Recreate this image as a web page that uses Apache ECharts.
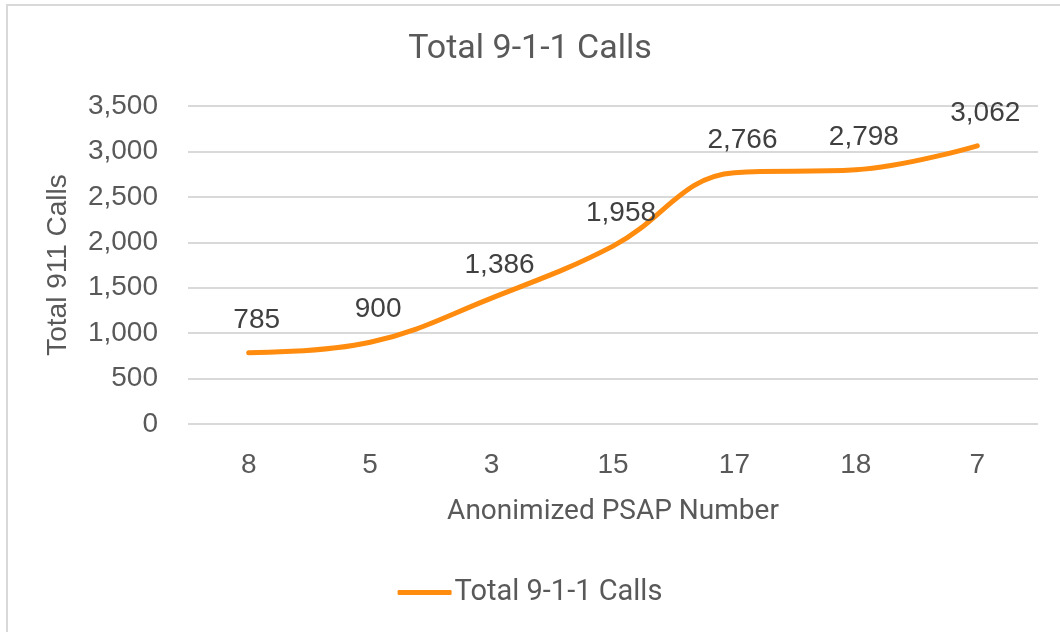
<!DOCTYPE html>
<html>
<head>
<meta charset="utf-8">
<script src="https://cdn.jsdelivr.net/npm/echarts@6/dist/echarts.min.js"></script>
<style>
  html, body { margin: 0; padding: 0; background: #fff; }
  #main { position: absolute; left: 0; top: 0; width: 1060px; height: 632px; }
  #frame { position: absolute; left: 6px; top: 4px; width: 1060px; height: 640px;
           border-left: 2px solid #d9d9d9; border-top: 2px solid #d9d9d9; }
</style>
</head>
<body>
<div id="frame"></div>
<div id="main"></div>
<script>
// 数据
var psapNumbers = ['8', '5', '3', '15', '17', '18', '7'];
var totalCalls = [785, 900, 1386, 1958, 2766, 2798, 3062];
var seriesName = 'Total 9-1-1 Calls';

var myChart = echarts.init(document.getElementById('main'));
var fmt = function (v) { return Number(v).toLocaleString('en-US'); };
var font = 'Liberation Sans';
var orange = '#ff8c0f';

var option = {
    animation: false,
    title: {
        text: 'Total 9-1-1 Calls',
        left: 'center',
        top: 27,
        textStyle: { fontFamily: 'Roboto', fontWeight: 'normal', fontSize: 34, color: '#595959' }
    },
    grid: { left: 188, right: 22, top: 106, bottom: 208 },
    legend: {
        top: 573,
        left: 'center',
        itemWidth: 54,
        itemHeight: 5,
        itemGap: 4,
        icon: 'roundRect',
        textStyle: { fontFamily: 'Roboto', fontSize: 29, color: '#595959', padding: [0, 0, 0, -2] },
        data: [{ name: seriesName, itemStyle: { color: orange } }]
    },
    xAxis: {
        type: 'category',
        data: psapNumbers,
        boundaryGap: true,
        name: 'Anonimized PSAP Number',
        nameLocation: 'middle',
        nameGap: 74,
        nameTextStyle: { fontFamily: 'Roboto', fontSize: 28, color: '#595959' },
        axisLine: { show: false },
        axisTick: { show: false },
        axisLabel: { margin: 27, fontFamily: font, fontSize: 28, color: '#595959' }
    },
    yAxis: {
        type: 'value',
        min: 0,
        max: 3500,
        interval: 500,
        name: 'Total 911 Calls',
        nameLocation: 'middle',
        nameGap: 116,
        nameTextStyle: { fontFamily: font, fontSize: 28, color: '#595959' },
        axisLine: { show: false },
        axisTick: { show: false },
        axisLabel: { margin: 30, fontFamily: font, fontSize: 28, color: '#595959', formatter: fmt },
        splitLine: { lineStyle: { color: '#d9d9d9', width: 2 } }
    },
    series: [{
        name: seriesName,
        type: 'line',
        data: totalCalls,
        smooth: 0.4,
        showSymbol: true,
        symbol: 'circle',
        symbolSize: 3,
        lineStyle: { color: orange, width: 5, cap: 'round' },
        itemStyle: { color: orange },
        label: {
            show: true,
            position: 'top',
            distance: 17,
            offset: [8, 0],
            fontFamily: font,
            fontSize: 28,
            color: '#404040',
            formatter: function (p) { return fmt(p.value); }
        }
    }]
};
myChart.setOption(option);
</script>
</body>
</html>
